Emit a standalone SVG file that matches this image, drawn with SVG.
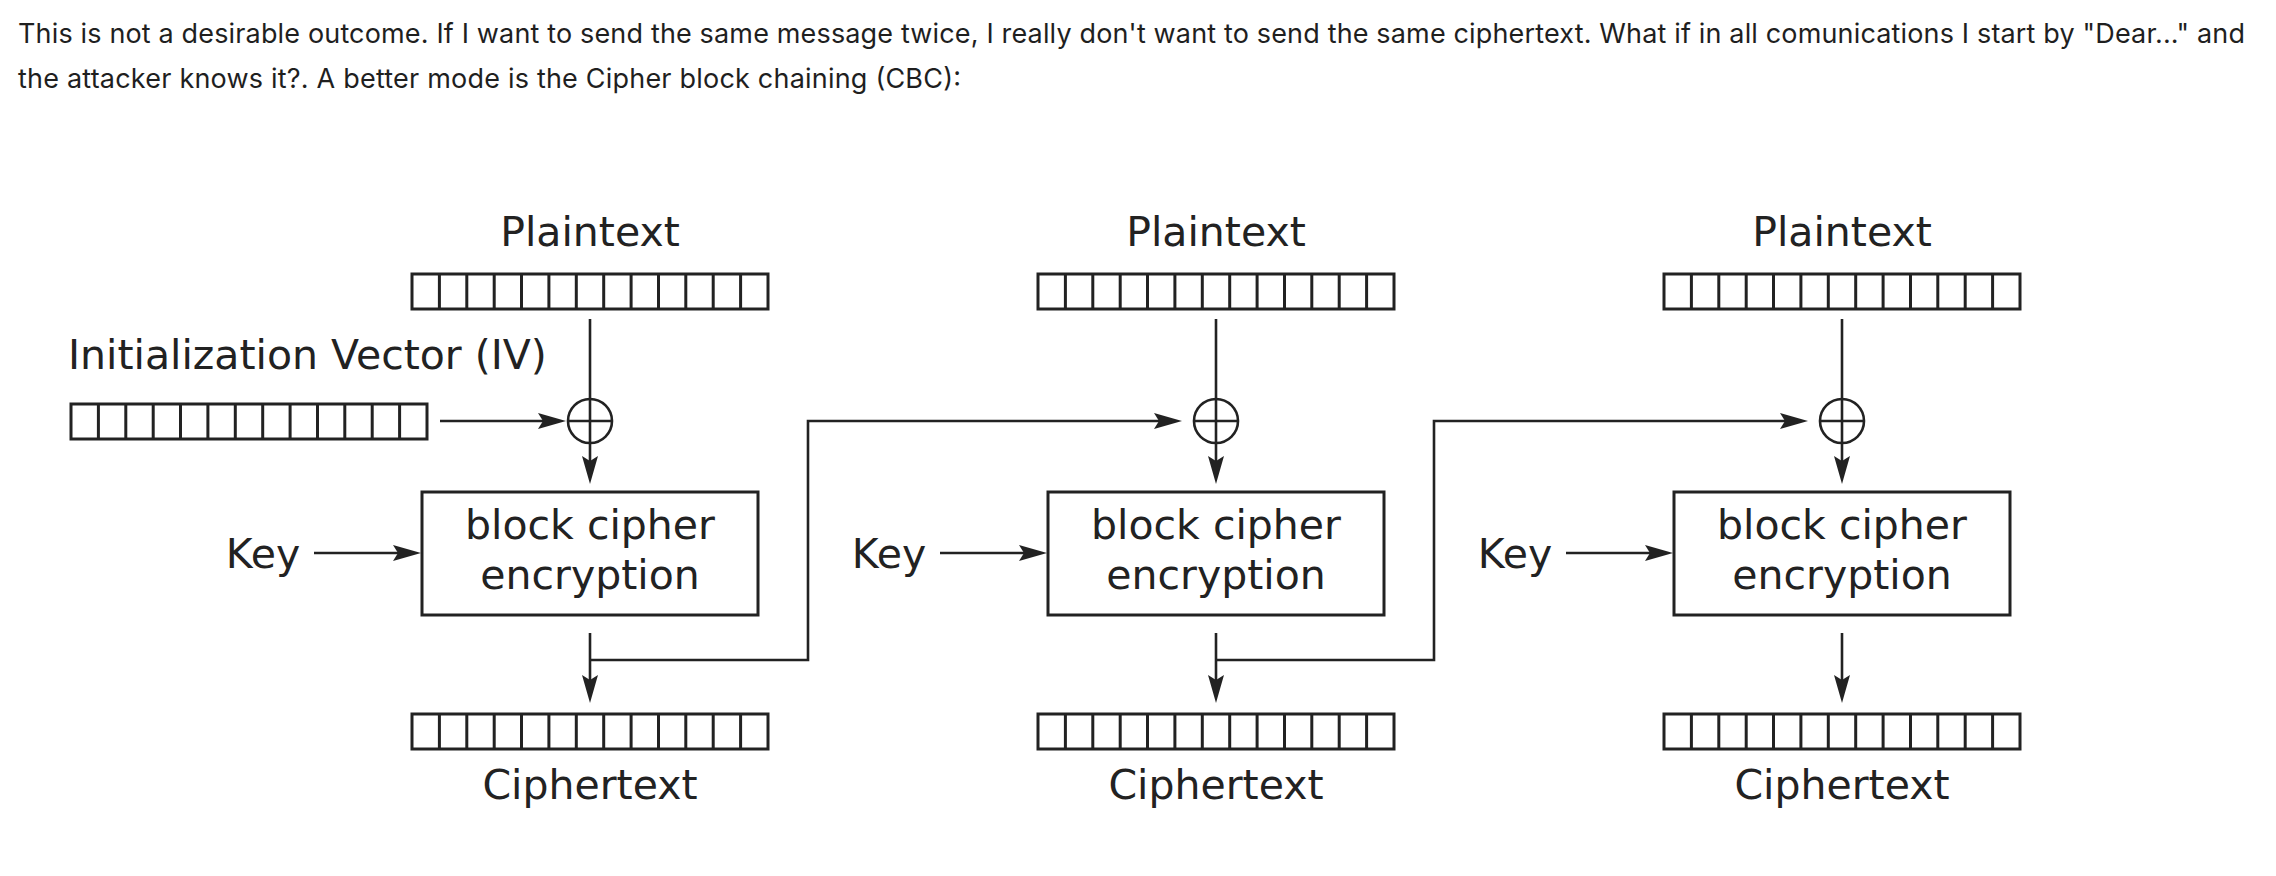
<svg xmlns="http://www.w3.org/2000/svg" xmlns:xlink="http://www.w3.org/1999/xlink" width="2276" height="876" viewBox="0 0 2276 876">
<style>
.body{font-family:Inter,"Liberation Sans",sans-serif;font-size:27px;fill:#1f1f1f}
.lbl{font-family:"DejaVu Sans",sans-serif;font-size:41px;fill:#222}
.box{fill:#fff;stroke:#222;stroke-width:3}
.ln{fill:none;stroke:#222;stroke-width:2.6}
.bar{fill:#fff;stroke:#222;stroke-width:3}
.cell{stroke:#222;stroke-width:3}
</style>
<defs>
<marker id="ah" viewBox="0 0 28 18" refX="18" refY="9" markerWidth="28" markerHeight="18" markerUnits="userSpaceOnUse" orient="auto">
<path d="M0,1 L28,9 L0,17 L5,9 Z" fill="#222"/>
</marker>
<g id="barShape">
<rect class="bar" x="0" y="0" width="356" height="35"/>
<path class="cell" d="M27.4,0V35M54.8,0V35M82.2,0V35M109.5,0V35M136.9,0V35M164.3,0V35M191.7,0V35M219.1,0V35M246.5,0V35M273.8,0V35M301.2,0V35M328.6,0V35"/>
</g>
</defs>
<rect width="2276" height="876" fill="#fff"/>
<g id="intro">
<text class="body" x="18" y="43" textLength="2227" lengthAdjust="spacing">This is not a desirable outcome. If I want to send the same message twice, I really don't want to send the same ciphertext. What if in all comunications I start by "Dear..." and</text>
<text class="body" x="18" y="88" textLength="943" lengthAdjust="spacing">the attacker knows it?. A better mode is the Cipher block chaining (CBC):</text>
</g>
<g id="iv">
<text class="lbl" x="68" y="369">Initialization Vector (IV)</text>
<use href="#barShape" x="71" y="404"/>
</g>
<g id="col1">
<text class="lbl" x="590" y="246" text-anchor="middle">Plaintext</text>
<use href="#barShape" x="412" y="274"/>
<circle cx="590" cy="421" r="22" class="ln"/>
<path class="ln" d="M568,421H612"/>
<rect class="box" x="422" y="492" width="336" height="123"/>
<text class="lbl" x="590" y="539" text-anchor="middle">block cipher</text>
<text class="lbl" x="590" y="589" text-anchor="middle">encryption</text>
<text class="lbl" x="263" y="568" text-anchor="middle">Key</text>
<use href="#barShape" x="412" y="714"/>
<text class="lbl" x="590" y="799" text-anchor="middle">Ciphertext</text>
</g>
<g id="col2">
<text class="lbl" x="1216" y="246" text-anchor="middle">Plaintext</text>
<use href="#barShape" x="1038" y="274"/>
<circle cx="1216" cy="421" r="22" class="ln"/>
<path class="ln" d="M1194,421H1238"/>
<rect class="box" x="1048" y="492" width="336" height="123"/>
<text class="lbl" x="1216" y="539" text-anchor="middle">block cipher</text>
<text class="lbl" x="1216" y="589" text-anchor="middle">encryption</text>
<text class="lbl" x="889" y="568" text-anchor="middle">Key</text>
<use href="#barShape" x="1038" y="714"/>
<text class="lbl" x="1216" y="799" text-anchor="middle">Ciphertext</text>
</g>
<g id="col3">
<text class="lbl" x="1842" y="246" text-anchor="middle">Plaintext</text>
<use href="#barShape" x="1664" y="274"/>
<circle cx="1842" cy="421" r="22" class="ln"/>
<path class="ln" d="M1820,421H1864"/>
<rect class="box" x="1674" y="492" width="336" height="123"/>
<text class="lbl" x="1842" y="539" text-anchor="middle">block cipher</text>
<text class="lbl" x="1842" y="589" text-anchor="middle">encryption</text>
<text class="lbl" x="1515" y="568" text-anchor="middle">Key</text>
<use href="#barShape" x="1664" y="714"/>
<text class="lbl" x="1842" y="799" text-anchor="middle">Ciphertext</text>
</g>
<g id="connectors">
<path class="ln" d="M440,421H556" marker-end="url(#ah)"/>
<path class="ln" d="M590,319V443"/>
<path class="ln" d="M590,443V474" marker-end="url(#ah)"/>
<path class="ln" d="M314,553H411" marker-end="url(#ah)"/>
<path class="ln" d="M590,633V693" marker-end="url(#ah)"/>
<path class="ln" d="M590,660H808V421H1172" marker-end="url(#ah)"/>
<path class="ln" d="M1216,319V443"/>
<path class="ln" d="M1216,443V474" marker-end="url(#ah)"/>
<path class="ln" d="M940,553H1037" marker-end="url(#ah)"/>
<path class="ln" d="M1216,633V693" marker-end="url(#ah)"/>
<path class="ln" d="M1216,660H1434V421H1798" marker-end="url(#ah)"/>
<path class="ln" d="M1842,319V443"/>
<path class="ln" d="M1842,443V474" marker-end="url(#ah)"/>
<path class="ln" d="M1566,553H1663" marker-end="url(#ah)"/>
<path class="ln" d="M1842,633V693" marker-end="url(#ah)"/>
</g>
</svg>
